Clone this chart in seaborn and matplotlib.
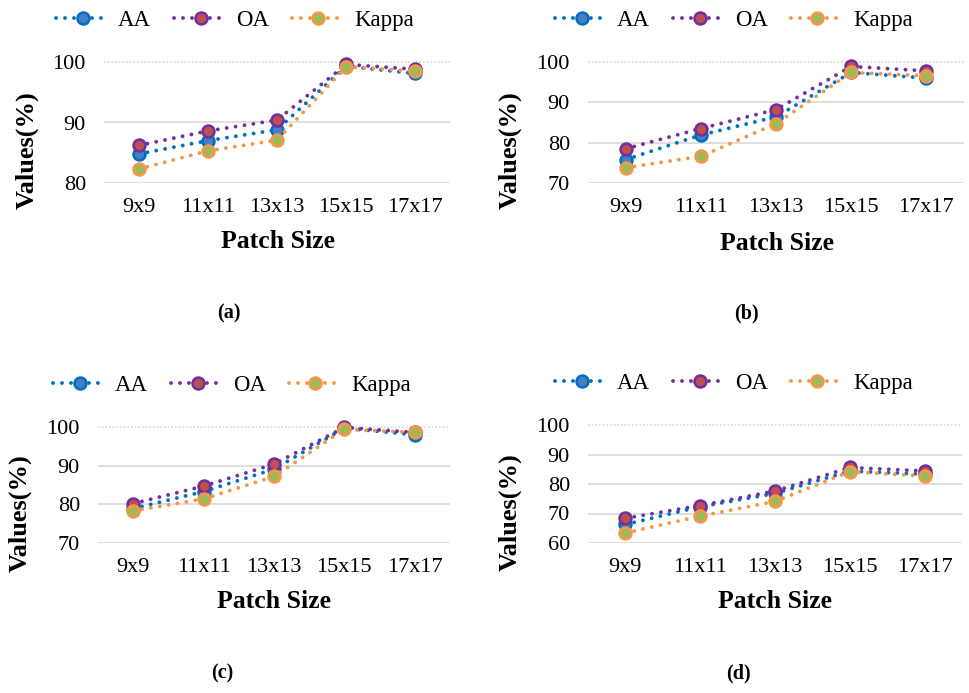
import matplotlib
matplotlib.use("Agg")
import matplotlib.pyplot as plt
import seaborn as sns
import pandas as pd

# Patch sizes on the x axis
patch_sizes = ["9x9", "11x11", "13x13", "15x15", "17x17"]
metric_names = ["AA", "OA", "Kappa"]

# (a)
a_aa = [84.8, 87.0, 88.8, 99.3, 98.1]
a_oa = [86.2, 88.6, 90.4, 99.6, 98.8]
a_kappa = [82.3, 85.3, 87.1, 99.2, 98.5]
a_ticks = [80, 90, 100]

# (b)
b_aa = [75.8, 81.9, 86.4, 97.4, 96.0]
b_oa = [78.5, 83.5, 88.2, 98.9, 97.8]
b_kappa = [73.8, 76.6, 84.7, 97.4, 96.6]
b_ticks = [70, 80, 90, 100]

# (c)
c_aa = [78.9, 83.3, 89.1, 99.7, 98.0]
c_oa = [80.2, 84.7, 90.4, 99.9, 98.6]
c_kappa = [78.3, 81.4, 87.2, 99.4, 98.6]
c_ticks = [70, 80, 90, 100]

# (d)
d_aa = [66.3, 72.3, 76.8, 84.4, 83.3]
d_oa = [68.4, 72.7, 77.6, 85.6, 84.4]
d_kappa = [63.4, 69.1, 74.1, 84.2, 82.7]
d_ticks = [60, 70, 80, 90, 100]

captions = ["(a)", "(b)", "(c)", "(d)"]

sns.set_theme(style="white")
plt.rcParams["font.family"] = ["Liberation Serif", "DejaVu Serif"]
plt.rcParams["text.color"] = "black"

line_colors = {"AA": "#0070C0", "OA": "#7030A0", "Kappa": "#F79646"}
face_colors = {"AA": "#4A7EC2", "OA": "#C0504D", "Kappa": "#9BBB59"}

W, H = 970, 693
fig = plt.figure(figsize=(W / 100, H / 100), dpi=100)


def fx(px):
    return px / W


def fy(py):
    return 1 - py / H


# pixel boxes: left, right, top, bottom of each plot area
panels = [
    dict(box=(104, 450, 62, 183), series=(a_aa, a_oa, a_kappa), ticks=a_ticks,
         legend=(235, 20), ylab=(27, 150), xlab=(278, 242), cap=(229, 313)),
    dict(box=(588, 964, 62, 183), series=(b_aa, b_oa, b_kappa), ticks=b_ticks,
         legend=(734, 20), ylab=(510, 150), xlab=(777, 243), cap=(746, 313)),
    dict(box=(98, 450, 427, 543), series=(c_aa, c_oa, c_kappa), ticks=c_ticks,
         legend=(232, 385), ylab=(20, 513), xlab=(274, 602), cap=(222, 673)),
    dict(box=(588, 962, 425, 543), series=(d_aa, d_oa, d_kappa), ticks=d_ticks,
         legend=(734, 383), ylab=(510, 512), xlab=(775, 602), cap=(738, 673)),
]

for p, cap in zip(panels, captions):
    l, r, t, b = p["box"]
    ax = fig.add_axes([fx(l), fy(b), (r - l) / W, (b - t) / H])
    df = pd.DataFrame({
        "Patch Size": patch_sizes * 3,
        "Value": [v for s in p["series"] for v in s],
        "Metric": [m for m in metric_names for _ in patch_sizes],
    })
    for m in metric_names:
        sub = df[df["Metric"] == m]
        sns.lineplot(data=sub, x="Patch Size", y="Value", ax=ax, label=m,
                     color=line_colors[m], lw=2.8,
                     linestyle=(0, (0.01, 2.3)), dash_capstyle="round",
                     marker="o", markersize=8.5, markeredgewidth=1.9,
                     markerfacecolor=face_colors[m], markeredgecolor=line_colors[m],
                     clip_on=False, zorder=3)
    ticks = p["ticks"]
    ax.set_ylim(ticks[0], ticks[-1])
    ax.set_yticks(ticks)
    ax.set_xlim(-0.5, 4.5)
    ax.set_xlabel("")
    ax.set_ylabel("")
    ax.yaxis.grid(True, color="#D9D9D9", lw=1.2)
    ax.xaxis.grid(False)
    top_grid = ax.yaxis.get_gridlines()[-1]
    top_grid.set_linestyle((0, (1, 1.2)))
    top_grid.set_clip_on(False)
    ax.tick_params(axis="both", length=0, labelsize=16, colors="black")
    ax.tick_params(axis="y", pad=13)
    ax.tick_params(axis="x", pad=11)
    sns.despine(ax=ax, left=True, bottom=True)

    handles, labels = ax.get_legend_handles_labels()
    ax.get_legend().remove()
    fig.legend(handles, labels, loc="center",
               bbox_to_anchor=(fx(p["legend"][0]), fy(p["legend"][1])),
               ncol=3, frameon=False, fontsize=16.5, numpoints=1,
               handlelength=2.3, handletextpad=0.4, columnspacing=1.0,
               borderaxespad=0, borderpad=0)

    fig.text(fx(p["ylab"][0]), fy(p["ylab"][1]), "Values(%)", rotation=90,
             ha="center", va="center", fontsize=19, fontweight="bold")
    fig.text(fx(p["xlab"][0]), fy(p["xlab"][1]), "Patch Size",
             ha="center", va="center", fontsize=18.5, fontweight="bold")
    fig.text(fx(p["cap"][0]), fy(p["cap"][1]), cap,
             ha="center", va="center", fontsize=14.5, fontweight="bold")

fig.savefig("out.png", dpi=100)
